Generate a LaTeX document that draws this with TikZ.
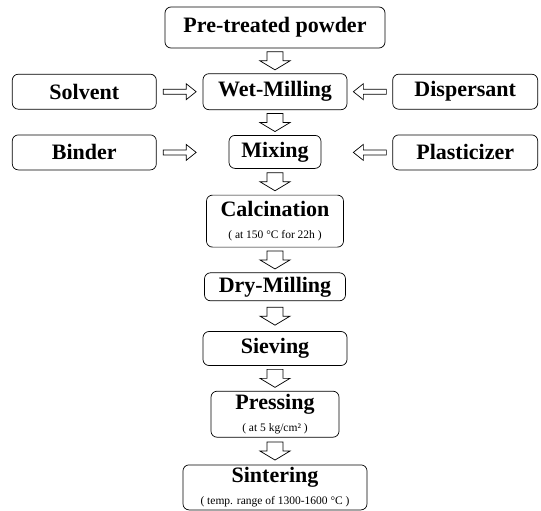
\documentclass[tikz,border=0pt]{standalone}
\usepackage{fontspec}
\setmainfont{Liberation Serif}
\usetikzlibrary{positioning,calc}

\newcommand{\stepfont}{\bfseries\fontsize{22}{24}\selectfont}
\newcommand{\notefont}{\mdseries\fontsize{11.5}{12}\selectfont}

\begin{document}
\begin{tikzpicture}[x=1pt,y=1pt,line width=0.7pt,
  box/.style={draw, rounded corners=6pt, inner sep=0pt, align=center, font=\stepfont},
  flowdown/.style={to path={($(\tikztostart)!.5!(\tikztotarget)$) ++(-8,9) -- ++(0,-9)
    -- ++(-7,0) -- ++(15,-9) -- ++(15,9) -- ++(-7,0) -- ++(0,9) -- cycle}},
  feedright/.style={to path={($(\tikztostart)!.5!(\tikztotarget)$) ++(-16.5,2.5) -- ++(23,0)
    -- ++(0,5.5) -- ++(10,-8) -- ++(-10,-8) -- ++(0,5.5) -- ++(-23,0) -- cycle}},
  feedleft/.style={to path={($(\tikztostart)!.5!(\tikztotarget)$) ++(16.5,2.5) -- ++(-23,0)
    -- ++(0,5.5) -- ++(-10,-8) -- ++(10,-8) -- ++(0,5.5) -- ++(23,0) -- cycle}}]
\useasboundingbox (0,0) rectangle (541,-511);

\node[box, minimum width=220, minimum height=41] (pre) at (275,-27.5) {Pre-treated powder};
\node[box, minimum width=144, minimum height=36, below=25 of pre] (wet) {Wet-Milling};
\node[box, minimum width=144, minimum height=35, left=46 of wet] (solv) {Solvent};
\node[box, minimum width=145, minimum height=35, right=45 of wet] (disp) {Dispersant};
\node[box, minimum width=92, minimum height=33, below=25 of wet] (mix) {Mixing};
\node[box, minimum width=144, minimum height=35, below=25 of solv] (bind) {Binder};
\node[box, minimum width=145, minimum height=35, below=25 of disp] (plast) {Plasticizer};
\node[box, minimum width=137, minimum height=52, below=26 of mix] (calc)
  {Calcination\\[-2pt]{\notefont ( at 150 °C for 22h )}};
\node[box, minimum width=141, minimum height=28, below=25 of calc] (dry) {Dry-Milling};
\node[box, minimum width=144, minimum height=34, below=30 of dry] (sieve) {Sieving};
\node[box, minimum width=128, minimum height=46, below=25 of sieve] (press)
  {Pressing\\[-2pt]{\notefont ( at 5 kg/cm² )}};
\node[box, minimum width=184, minimum height=45, below=27 of press] (sint)
  {Sintering\\[-2pt]{\notefont ( temp. range of 1300-1600 °C )}};

\coordinate (bindin) at (wet.west |- bind);
\coordinate (plastin) at (wet.east |- plast);

\draw (pre.south) to[flowdown] (wet.north);
\draw (wet.south) to[flowdown] (mix.north);
\draw (mix.south) to[flowdown] (calc.north);
\draw (calc.south) to[flowdown] (dry.north);
\draw (dry.south) to[flowdown] (sieve.north);
\draw (sieve.south) to[flowdown] (press.north);
\draw (press.south) to[flowdown] (sint.north);
\draw (solv.east) to[feedright] (wet.west);
\draw (disp.west) to[feedleft] (wet.east);
\draw (bind.east) to[feedright] (bindin);
\draw (plast.west) to[feedleft] (plastin);
\end{tikzpicture}
\end{document}
